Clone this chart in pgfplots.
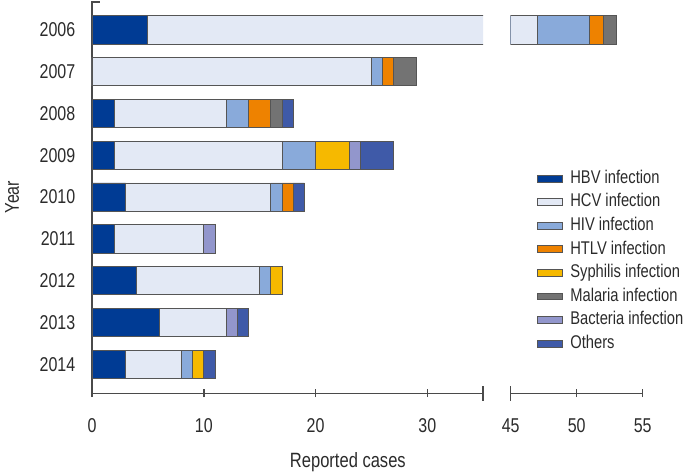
\documentclass[border=0pt]{standalone}
\usepackage{fontspec}
\setmainfont{Liberation Sans}[FakeStretch=0.8]
\usepackage{pgfplots}
\pgfplotsset{compat=1.18}
\usepackage{pgfplotstable}

\definecolor{axisgray}{HTML}{4A4A4A}
\definecolor{edgegray}{HTML}{555555}
\definecolor{labelgray}{HTML}{2B2B2B}
\definecolor{cHBV}{HTML}{003B94}
\definecolor{cHCV}{HTML}{E3E9F5}
\definecolor{cHIV}{HTML}{89AADA}
\definecolor{cHTLV}{HTML}{EE8200}
\definecolor{cSyph}{HTML}{F6B900}
\definecolor{cMal}{HTML}{737373}
\definecolor{cBact}{HTML}{9296CC}
\definecolor{cOth}{HTML}{3F5AA8}

% y: 8 = 2006 ... 0 = 2014
\pgfplotstableread{
y HBV HCV HIV HTLV Syph Mal Bact Oth
8 5 42 4 1 0 1 0 0
7 0 25 1 1 0 2 0 0
6 2 10 2 2 0 1 0 1
5 2 15 3 0 3 0 1 3
4 3 13 1 1 0 0 0 1
3 2 8 0 0 0 0 1 0
2 4 11 1 0 1 0 0 0
1 6 6 0 0 0 0 1 1
0 3 5 1 0 1 0 0 1
}\datatable

\pgfplotsset{
  common/.style={
    xbar stacked, bar width=21.2pt,
    ymin=-0.696, ymax=8.665, y=31.35pt,
    x tick style={draw=axisgray, line width=1.1pt},
    major tick length=5.75pt, tick align=inside,
    every axis plot/.append style={draw=edgegray, line width=0.6pt},
    xticklabel style={font=\fontsize{15}{18}\selectfont, text=labelgray, anchor=north, inner sep=0pt, yshift=-15.8pt},
    /pgf/number format/assume math mode=true,
    clip=true,
  },
  noarrows/.style={
    axis line style={-, draw=axisgray, line width=1.1pt},
    every outer x axis line/.append style={-},
    every outer y axis line/.append style={-},
    every inner x axis line/.append style={-},
    every inner y axis line/.append style={-},
  }
}

\begin{document}
\begin{tikzpicture}
\useasboundingbox (-69pt,-58.3pt) rectangle (443.25pt,295pt);
\begin{axis}[common, name=L, at={(0,0)}, anchor=south west,
  x=8.383pt, xmin=0, xmax=35,
  axis x line=bottom, axis y line=left, noarrows,
  xtick={0,10,20,30},
  extra x ticks={35}, extra x tick labels={},
  extra x tick style={tick align=center, major tick length=11.25pt},
  ytick={0,1,2,3,4,5,6,7,8},
  yticklabels={2014,2013,2012,2011,2010,2009,2008,2007,2006},
  y tick style={draw=none},
  yticklabel style={font=\fontsize{15}{18}\selectfont, text=labelgray, anchor=east, inner sep=0pt, xshift=-9.5pt},
  ylabel={Year},
  ylabel style={at={(axis description cs:-0.2045,0.5017)}, anchor=center, font=\fontsize{15}{18}\selectfont, text=labelgray},
  xlabel={Reported cases},
  xlabel style={at={(axis description cs:0.654,-0.1883)}, anchor=base, font=\fontsize{15.5}{18}\selectfont, text=labelgray},
]
\addplot[fill=cHBV] table[x=HBV,y=y]{\datatable};
\addplot[fill=cHCV] table[x=HCV,y=y]{\datatable};
\addplot[fill=cHIV] table[x=HIV,y=y]{\datatable};
\addplot[fill=cHTLV] table[x=HTLV,y=y]{\datatable};
\addplot[fill=cSyph] table[x=Syph,y=y]{\datatable};
\addplot[fill=cMal] table[x=Mal,y=y]{\datatable};
\addplot[fill=cBact] table[x=Bact,y=y]{\datatable};
\addplot[fill=cOth] table[x=Oth,y=y]{\datatable};
\end{axis}
\draw[axisgray, line width=1.1pt] ([xshift=-0.55pt]L.north west) -- ++(6.5pt,0);

\begin{axis}[common, at={(314pt,0)}, anchor=south west,
  x=9.9pt, xmin=45, xmax=55,
  axis x line=bottom, axis y line=none, noarrows,
  xtick={45,50,55},
  extra x ticks={45}, extra x tick labels={},
  extra x tick style={tick align=center, major tick length=11.25pt},
  ytick=\empty,
  restrict y to domain=7.5:8.5,
  legend cell align=left,
  legend image code/.code={\draw[#1] (0pt,-2.6pt) rectangle (18.75pt,2.6pt);},
  legend style={at={(axis description cs:0.197,0.571)}, anchor=north west,
    draw=none, fill=none, inner sep=0pt,
    font=\fontsize{13.8}{16}\selectfont, text=labelgray,
    row sep=5.3pt,
    nodes={inner sep=0pt, text height=9.8pt, text depth=2.6pt, anchor=west},
    /tikz/every odd column/.append style={column sep=5.7pt}},
]
\addplot[fill=cHBV] table[x=HBV,y=y]{\datatable};
\addplot[fill=cHCV] table[x=HCV,y=y]{\datatable};
\addplot[fill=cHIV] table[x=HIV,y=y]{\datatable};
\addplot[fill=cHTLV] table[x=HTLV,y=y]{\datatable};
\addplot[fill=cSyph] table[x=Syph,y=y]{\datatable};
\addplot[fill=cMal] table[x=Mal,y=y]{\datatable};
\addplot[fill=cBact] table[x=Bact,y=y]{\datatable};
\addplot[fill=cOth] table[x=Oth,y=y]{\datatable};
\legend{HBV infection, HCV infection, HIV infection, HTLV infection, Syphilis infection, Malaria infection, Bacteria infection, Others}
\end{axis}
\end{tikzpicture}
\end{document}
